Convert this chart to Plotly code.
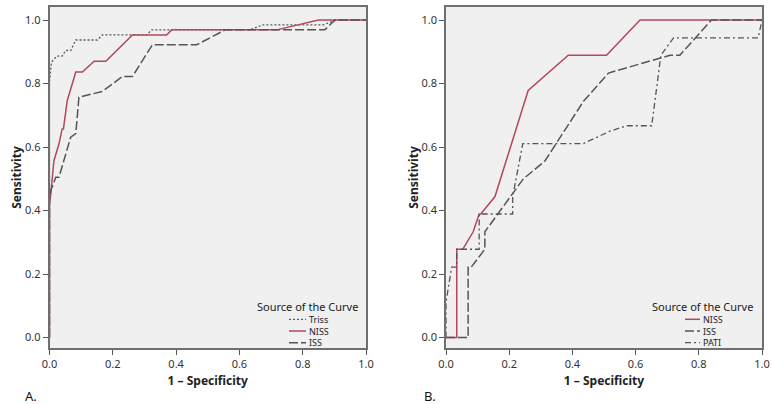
import plotly.graph_objects as go

# ---------------- data ----------------
# Panel A
a_triss_x = [0.0, 0.0, 0.0, 0.006, 0.023, 0.040, 0.051, 0.067, 0.083, 0.151, 0.167, 0.307, 0.323, 0.633, 0.675, 0.865, 0.907, 1.0]
a_triss_y = [0.0, 0.500, 0.804, 0.867, 0.886, 0.886, 0.904, 0.904, 0.937, 0.937, 0.953, 0.953, 0.969, 0.969, 0.985, 0.985, 1.0, 1.0]

a_niss_x = [0.0, 0.0, 0.004, 0.014, 0.030, 0.040, 0.044, 0.056, 0.083, 0.104, 0.141, 0.178, 0.262, 0.370, 0.386, 0.718, 0.850, 1.0]
a_niss_y = [0.0, 0.420, 0.452, 0.557, 0.610, 0.657, 0.657, 0.746, 0.836, 0.836, 0.870, 0.870, 0.953, 0.953, 0.969, 0.969, 1.0, 1.0]

a_iss_x = [0.0, 0.0, 0.004, 0.020, 0.030, 0.067, 0.083, 0.093, 0.167, 0.230, 0.262, 0.325, 0.465, 0.555, 0.870, 0.902, 1.0]
a_iss_y = [0.0, 0.430, 0.463, 0.505, 0.505, 0.631, 0.642, 0.757, 0.775, 0.822, 0.822, 0.922, 0.922, 0.969, 0.969, 1.0, 1.0]

# Panel B
b_niss_x = [0.0, 0.034, 0.034, 0.053, 0.086, 0.105, 0.110, 0.155, 0.260, 0.387, 0.508, 0.614, 1.0]
b_niss_y = [0.0, 0.0, 0.278, 0.278, 0.333, 0.389, 0.389, 0.444, 0.778, 0.889, 0.889, 1.0, 1.0]

b_iss_x = [0.0, 0.070, 0.070, 0.080, 0.123, 0.123, 0.245, 0.313, 0.435, 0.514, 0.709, 0.740, 0.840, 1.0]
b_iss_y = [0.0, 0.0, 0.222, 0.222, 0.278, 0.333, 0.500, 0.556, 0.744, 0.833, 0.889, 0.889, 1.0, 1.0]

b_pati_x = [0.0, 0.0, 0.018, 0.034, 0.034, 0.105, 0.105, 0.211, 0.211, 0.243, 0.435, 0.519, 0.572, 0.651, 0.680, 0.720, 0.988, 1.0]
b_pati_y = [0.0, 0.111, 0.222, 0.222, 0.278, 0.278, 0.389, 0.389, 0.444, 0.611, 0.611, 0.650, 0.667, 0.667, 0.889, 0.944, 0.944, 1.0]

ticks = [0.0, 0.2, 0.4, 0.6, 0.8, 1.0]
tick_text = ["0.0", "0.2", "0.4", "0.6", "0.8", "1.0"]
legend_title = "Source of the Curve"
legend_a = ["Triss", "NISS", "ISS"]
legend_b = ["NISS", "ISS", "PATI"]

# ---------------- styles ----------------
W, H = 772, 404
RED = "#b3475b"
GREY = "#555555"
FONT = "Noto Sans"
sty_dot = dict(color="#5a5a5a", width=1.3, dash="2px,2px")
sty_red = dict(color=RED, width=1.5, dash="solid")
sty_dash = dict(color=GREY, width=1.5, dash="9px,3px")
sty_dashdot = dict(color=GREY, width=1.3, dash="6px,3px,2px,3px")


def px2x(p):
    return p / W


def px2y(p):
    return 1 - p / H


fig = go.Figure()

traces_a = [(a_triss_x, a_triss_y, legend_a[0], sty_dot),
            (a_niss_x, a_niss_y, legend_a[1], sty_red),
            (a_iss_x, a_iss_y, legend_a[2], sty_dash)]
traces_b = [(b_niss_x, b_niss_y, legend_b[0], sty_red),
            (b_iss_x, b_iss_y, legend_b[1], sty_dash),
            (b_pati_x, b_pati_y, legend_b[2], sty_dashdot)]

for xs, ys, name, st in traces_a:
    fig.add_trace(go.Scatter(x=xs, y=ys, mode="lines", name=name, line=st,
                             xaxis="x", yaxis="y", showlegend=False))
for xs, ys, name, st in traces_b:
    fig.add_trace(go.Scatter(x=xs, y=ys, mode="lines", name=name, line=st,
                             xaxis="x2", yaxis="y2", showlegend=False))

axis_common = dict(
    tickvals=ticks, ticktext=tick_text, ticks="outside", ticklen=5,
    tickcolor="#555555", tickwidth=1.2, showgrid=False, zeroline=False,
    showline=True, linecolor="#6f6f6f", linewidth=1.5, mirror=True,
    automargin=False,
    tickfont=dict(family=FONT, size=11, color="#333333"),
)

yr = [-0.033, 1.041]
dom_y = [px2y(348), px2y(7)]
tfont = dict(size=12, family=FONT, color="#222")

fig.update_layout(
    width=W, height=H, margin=dict(l=0, r=0, t=0, b=0, autoexpand=False),
    paper_bgcolor="white", plot_bgcolor="#f0f0f0",
    font=dict(family=FONT, color="#222222"),
    xaxis=dict(axis_common, range=[0, 1], domain=[px2x(49.5), px2x(366)], anchor="y",
               title=dict(text="<b>1 – Specificity</b>", font=tfont, standoff=7)),
    yaxis=dict(axis_common, range=yr, domain=dom_y, anchor="x",
               title=dict(text="<b>Sensitivity</b>", font=tfont, standoff=0)),
    xaxis2=dict(axis_common, range=[0, 1], domain=[px2x(446), px2x(762)], anchor="y2",
                title=dict(text="<b>1 – Specificity</b>", font=tfont, standoff=7)),
    yaxis2=dict(axis_common, range=yr, domain=dom_y, anchor="x2",
                title=dict(text="<b>Sensitivity</b>", font=tfont, standoff=0)),
    showlegend=False,
)

# panel letters
for txt, xp in [("A.", 23), ("B.", 422)]:
    fig.add_annotation(text=txt, x=px2x(xp), y=px2y(396), xref="paper", yref="paper",
                       xanchor="left", yanchor="middle", showarrow=False,
                       font=dict(family=FONT, size=13, color="#111"))


# manual legends (SPSS style, compact)
def add_legend(title_cx, sample_x0, sample_x1, names, styles):
    fig.add_annotation(text=legend_title, x=px2x(title_cx), y=px2y(306), xref="paper", yref="paper",
                       xanchor="center", yanchor="middle", showarrow=False,
                       font=dict(family=FONT, size=11, color="#222"))
    fs = 9
    gap = fs * 1.3
    mid = 331
    rows = [mid - gap, mid, mid + gap]
    for ry, st in zip(rows, styles):
        fig.add_shape(type="line", xref="paper", yref="paper",
                      x0=px2x(sample_x0), x1=px2x(sample_x1), y0=px2y(ry), y1=px2y(ry),
                      line=dict(color=st["color"], width=st["width"], dash=st["dash"]))
    fig.add_annotation(text="<br>".join(names), x=px2x(sample_x1 + 1), y=px2y(mid),
                       xref="paper", yref="paper", xanchor="left", yanchor="middle",
                       align="left", showarrow=False,
                       font=dict(family=FONT, size=fs, color="#222"))


add_legend(307, 289, 306, legend_a, [sty_dot, sty_red, sty_dash])
add_legend(702, 685, 700, legend_b, [sty_red, sty_dash, sty_dashdot])

fig.write_html("out.html", config={"displayModeBar": False},
               post_script="document.body.style.margin='0px';")
